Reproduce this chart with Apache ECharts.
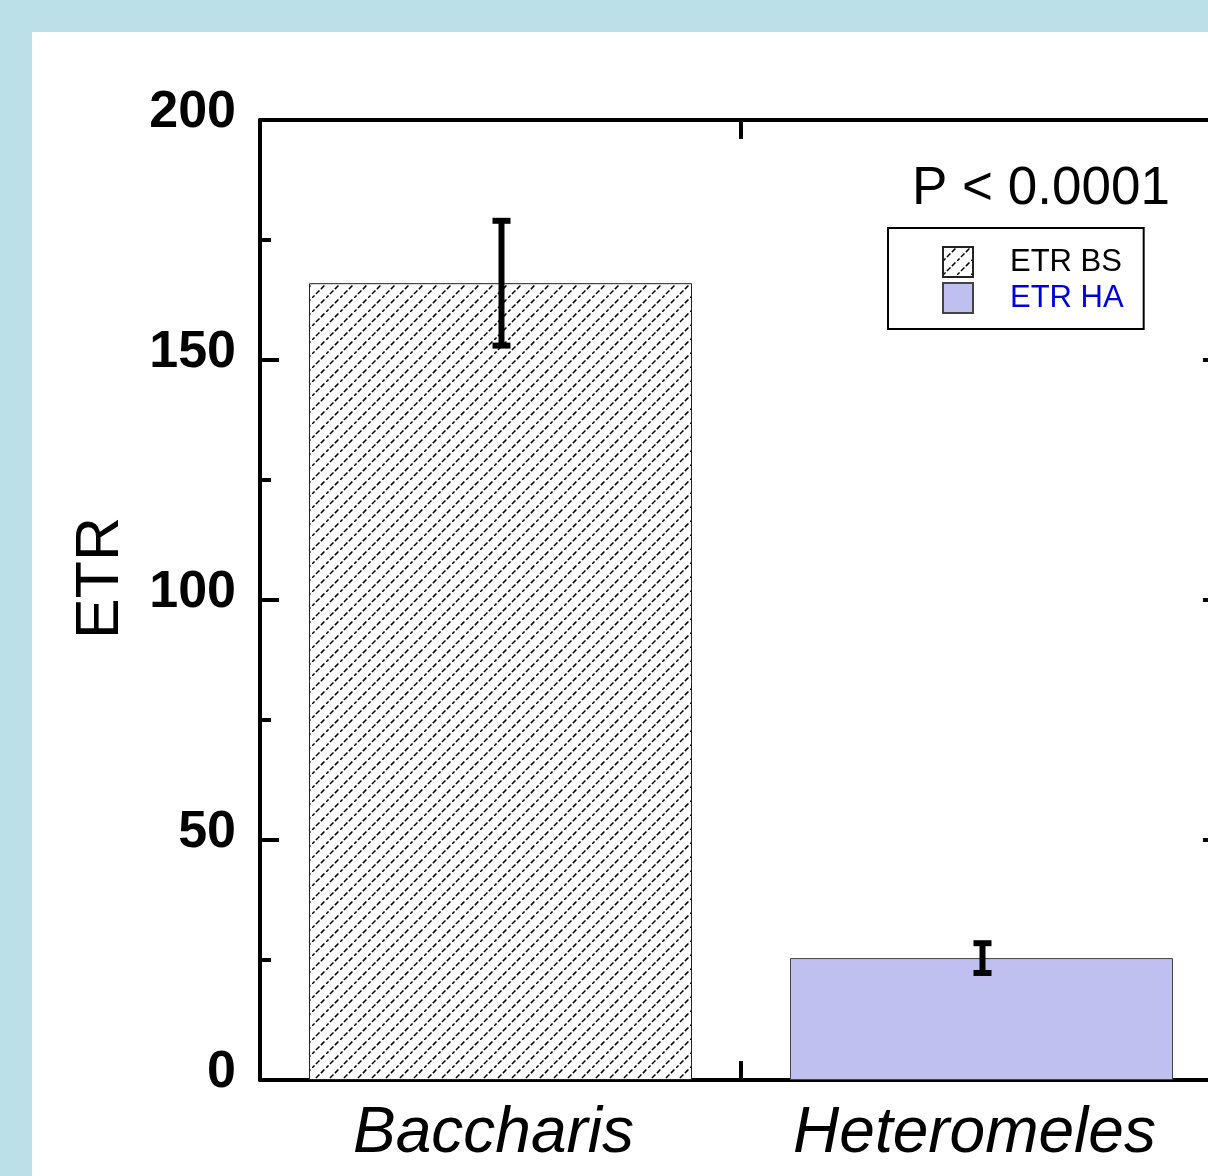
<!DOCTYPE html>
<html>
<head>
<meta charset="utf-8">
<script src="https://cdn.jsdelivr.net/npm/echarts@6/dist/echarts.min.js"></script>
<style>
  html, body { margin: 0; padding: 0; width: 1208px; height: 1176px; overflow: hidden; background: #bbe0e8; }
  #chart { position: absolute; left: 32px; top: 32px; width: 1200px; height: 1144px; background: #ffffff; }
</style>
</head>
<body>
<div id="chart"></div>
<script>
// ---- data ----
const categories = ['Baccharis', 'Heteromeles'];
const seriesNames = ['ETR BS', 'ETR HA'];
const etrMeans = [166, 25.4];
const etrErrors = [13, 3.1];
const yTicks = [0, 50, 100, 150, 200];
const pLabel = 'P < 0.0001';
const yAxisTitle = 'ETR';

const FONT = '"Liberation Sans", Arial, Helvetica, sans-serif';

// hatch pattern
function makeHatch() {
  const s = 14;
  const c = document.createElement('canvas');
  c.width = s; c.height = s;
  const g = c.getContext('2d');
  g.fillStyle = '#ffffff';
  g.fillRect(0, 0, s, s);
  g.strokeStyle = '#000000';
  g.lineWidth = 1.5;
  g.setLineDash([5, 2]);
  g.beginPath();
  g.moveTo(-1, s + 1);
  g.lineTo(s + 1, -1);
  g.stroke();
  return c;
}
const hatch = { image: makeHatch(), repeat: 'repeat' };

const chart = echarts.init(document.getElementById('chart'), null, { renderer: 'canvas' });

const errData = categories.map((c, i) => [i, etrMeans[i] - etrErrors[i], etrMeans[i] + etrErrors[i]]);

const axisLine = { show: true, onZero: false, lineStyle: { color: '#000', width: 4 } };

const option = {
  backgroundColor: '#ffffff',
  animation: false,
  grid: { left: 228, top: 88, right: 10, bottom: 96, containLabel: false },
  legend: {
    orient: 'vertical',
    left: 856,
    top: 196,
    padding: [18, 20, 15, 54],
    itemWidth: 30,
    itemHeight: 30,
    itemGap: 4,
    borderColor: '#000',
    borderWidth: 2,
    backgroundColor: '#fff',
    icon: 'rect',
    textStyle: { fontFamily: FONT, fontSize: 31, padding: [0, 0, 0, 32] },
    data: [
      { name: seriesNames[0], textStyle: { color: '#000000' } },
      { name: seriesNames[1], textStyle: { color: '#0000dd' } }
    ]
  },
  xAxis: [
    {
      type: 'category',
      data: categories,
      position: 'bottom',
      axisLine: axisLine,
      axisTick: { show: true, inside: true, length: 19, lineStyle: { color: '#000', width: 4 } },
      axisLabel: { fontFamily: FONT, fontSize: 64, fontStyle: 'italic', color: '#000', margin: 22, padding: [0, 14, 0, 0] },
      splitLine: { show: false }
    },
    {
      type: 'category',
      data: categories,
      position: 'top',
      axisLine: axisLine,
      axisTick: { show: true, inside: true, length: 19, lineStyle: { color: '#000', width: 4 } },
      axisLabel: { show: false },
      splitLine: { show: false }
    }
  ],
  yAxis: [
    {
      type: 'value',
      min: yTicks[0],
      max: yTicks[yTicks.length - 1],
      interval: 50,
      position: 'left',
      axisLine: axisLine,
      axisTick: { show: true, inside: true, length: 19, lineStyle: { color: '#000', width: 4 } },
      minorTick: { show: true, splitNumber: 2, length: 11, lineStyle: { color: '#000', width: 4 } },
      axisLabel: { fontFamily: FONT, fontSize: 52, fontWeight: 'bold', color: '#000', margin: 24, verticalAlign: 'bottom', lineHeight: 15 },
      splitLine: { show: false }
    },
    {
      type: 'value',
      min: yTicks[0],
      max: yTicks[yTicks.length - 1],
      interval: 50,
      position: 'right',
      axisLine: axisLine,
      axisTick: { show: true, inside: true, length: 19, lineStyle: { color: '#000', width: 4 } },
      minorTick: { show: true, splitNumber: 2, length: 11, lineStyle: { color: '#000', width: 4 } },
      axisLabel: { show: false },
      splitLine: { show: false }
    }
  ],
  series: [
    {
      name: seriesNames[0],
      type: 'bar',
      barWidth: 383,
      barGap: '-100%',
      data: [etrMeans[0], '-'],
      itemStyle: { color: hatch, borderColor: '#222', borderWidth: 1 },
      z: 2
    },
    {
      name: seriesNames[1],
      type: 'bar',
      barWidth: 383,
      barGap: '-100%',
      data: ['-', etrMeans[1]],
      itemStyle: { color: '#c0c0f0', borderColor: '#444', borderWidth: 1 },
      z: 2
    },
    {
      name: 'err',
      type: 'custom',
      z: 5,
      data: errData,
      renderItem: function (params, api) {
        const i = api.value(0);
        const lo = api.coord([i, api.value(1)]);
        const hi = api.coord([i, api.value(2)]);
        const x = lo[0] + 1;
        const hw = 9;
        const st = { stroke: '#000', lineWidth: 6, fill: null };
        return {
          type: 'group',
          children: [
            { type: 'line', shape: { x1: x, y1: lo[1], x2: x, y2: hi[1] }, style: st },
            { type: 'line', shape: { x1: x - hw, y1: lo[1], x2: x + hw, y2: lo[1] }, style: st },
            { type: 'line', shape: { x1: x - hw, y1: hi[1], x2: x + hw, y2: hi[1] }, style: st }
          ]
        };
      }
    }
  ],
  graphic: [
    {
      type: 'text',
      left: 880,
      top: 131,
      style: { text: pLabel, fontFamily: FONT, fontSize: 53, fill: '#000' }
    },
    {
      type: 'text',
      x: 69,
      y: 546,
      rotation: Math.PI / 2,
      style: { text: yAxisTitle, fontFamily: FONT, fontSize: 61, fill: '#000', align: 'center', verticalAlign: 'middle' }
    }
  ]
};

chart.setOption(option);
</script>
</body>
</html>
